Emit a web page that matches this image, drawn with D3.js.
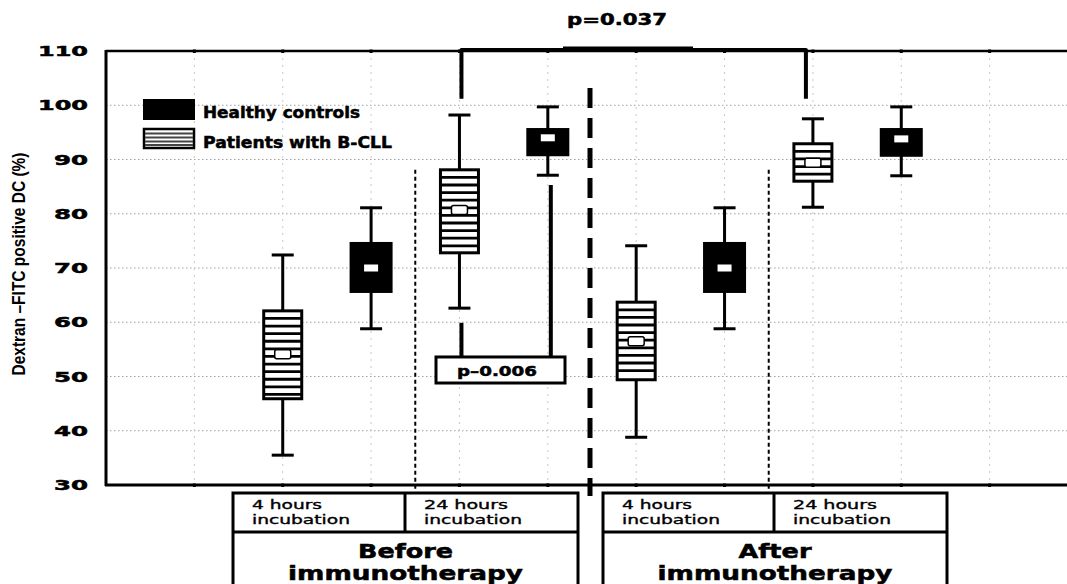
<!DOCTYPE html>
<html>
<head>
<meta charset="utf-8">
<script src="https://cdn.jsdelivr.net/npm/d3@7"></script>
<style>
  body { margin: 0; background: #fff; }
  svg { display: block; }
  .heavy { stroke: #000; stroke-width: 0.5px; }
  .medium { stroke: #000; stroke-width: 0.35px; }
</style>
</head>
<body>
<script>
// ---- data ----
const groups = ["Healthy controls", "Patients with B-CLL"];
const phases = [["Before", "immunotherapy"], ["After", "immunotherapy"]];
const incubations = [["4 hours", "incubation"], ["24 hours", "incubation"]];

// one entry per box, left to right
const boxGroup    = ["Patients with B-CLL", "Healthy controls", "Patients with B-CLL", "Healthy controls",
                     "Patients with B-CLL", "Healthy controls", "Patients with B-CLL", "Healthy controls"];
const whiskerLow  = [35.5, 58.8, 62.6, 87.1, 38.8, 58.8, 81.2, 87.0];
const q1          = [45.9, 65.4, 72.8, 90.6, 49.4, 65.4, 86.0, 90.5];
const medians     = [54.1, 70.0, 80.7, 94.0, 56.5, 70.0, 89.4, 93.8];
const q3          = [62.1, 74.8, 88.1, 95.8, 63.7, 74.8, 92.9, 95.8];
const whiskerHigh = [72.4, 81.1, 98.2, 99.7, 74.1, 81.1, 97.5, 99.7];

const yTicks = [30, 40, 50, 60, 70, 80, 90, 100, 110];
const yTitle = "Dextran \u2013FITC positive DC (%)";
const pTop = "p=0.037";
const pInner = "p\u20130.006";

// ---- layout ----
const W = 1067, H = 584;
const plotLeft = 106, plotTop = 51, plotBottom = 485;

const svg = d3.select("body").append("svg").attr("width", W).attr("height", H);

const x = d3.scaleLinear().domain([0, 11]).range([plotLeft, 1078]);
const y = d3.scaleLinear().domain([30, 110]).range([plotBottom, plotTop]);
const slot = i => x(i + 2);

const boldFont = "'DejaVu Sans', sans-serif";

// grid
const grid = svg.append("g");
grid.selectAll("line.h").data(yTicks.filter(v => v > 30 && v < 110)).join("line")
  .attr("x1", plotLeft).attr("x2", W).attr("y1", d => y(d)).attr("y2", d => y(d))
  .attr("stroke", "#a0a0a0").attr("stroke-width", 1.1).attr("stroke-dasharray", "1.5,2.5");
grid.selectAll("line.v").data(d3.range(1, 12)).join("line")
  .attr("x1", d => x(d)).attr("x2", d => x(d)).attr("y1", plotTop).attr("y2", plotBottom)
  .attr("stroke", "#c8c8c8").attr("stroke-width", 1).attr("stroke-dasharray", "2,5");

// frame
svg.append("line").attr("x1", plotLeft).attr("x2", W).attr("y1", plotTop).attr("y2", plotTop)
  .attr("stroke", "#000").attr("stroke-width", 2.5);
svg.append("line").attr("x1", plotLeft - 1).attr("x2", W).attr("y1", plotBottom).attr("y2", plotBottom)
  .attr("stroke", "#000").attr("stroke-width", 3);
svg.append("line").attr("x1", plotLeft).attr("x2", plotLeft).attr("y1", plotTop - 1).attr("y2", plotBottom + 1)
  .attr("stroke", "#000").attr("stroke-width", 3);

// tick dots on top and bottom edges
svg.append("g").selectAll("rect").data(d3.range(1, 12).flatMap(i => [[i, plotTop], [i, plotBottom]])).join("rect")
  .attr("x", d => x(d[0]) - 1.5).attr("y", d => d[1] - 1.5).attr("width", 3).attr("height", 3.5)
  .attr("fill", "#000");

// y tick labels
svg.append("g").selectAll("text").data(yTicks).join("text")
  .attr("class", "heavy")
  .attr("x", 88).attr("y", d => y(d) + 5)
  .attr("text-anchor", "end")
  .attr("font-family", boldFont).attr("font-weight", "bold").attr("font-size", 14)
  .attr("textLength", d => d >= 100 ? 50 : 34).attr("lengthAdjust", "spacingAndGlyphs")
  .text(d => d);

// y axis title
svg.append("text")
  .attr("transform", "translate(25,264) rotate(-90)")
  .attr("text-anchor", "middle")
  .attr("font-family", "'Liberation Sans Narrow', 'Liberation Sans', sans-serif")
  .attr("font-weight", "bold").attr("font-size", 19)
  .attr("textLength", 223).attr("lengthAdjust", "spacingAndGlyphs")
  .text(yTitle);

// section separators
[(x(3) + x(4)) / 2, (x(7) + x(8)) / 2].forEach(sx => {
  svg.append("line").attr("x1", sx).attr("x2", sx).attr("y1", y(88.1)).attr("y2", plotBottom + 5)
    .attr("stroke", "#000").attr("stroke-width", 2).attr("stroke-dasharray", "4,3");
});
const midX = (x(5) + x(6)) / 2 - 2;
svg.append("line").attr("x1", midX).attr("x2", midX).attr("y1", y(103.2)).attr("y2", plotBottom + 11)
  .attr("stroke", "#000").attr("stroke-width", 5).attr("stroke-dasharray", "20,10");

// boxes
const boxes = svg.append("g");
boxGroup.forEach((g, i) => {
  const cx = slot(i);
  const healthy = g === groups[0];
  const w = healthy ? 43 : 38;
  const gEl = boxes.append("g");
  // whisker
  gEl.append("line").attr("x1", cx).attr("x2", cx).attr("y1", y(whiskerLow[i])).attr("y2", y(whiskerHigh[i]))
    .attr("stroke", "#000").attr("stroke-width", 3);
  [whiskerLow[i], whiskerHigh[i]].forEach(v => {
    gEl.append("line").attr("x1", cx - 11).attr("x2", cx + 11).attr("y1", y(v)).attr("y2", y(v))
      .attr("stroke", "#000").attr("stroke-width", 3);
  });
  const yTop = y(q3[i]), yBot = y(q1[i]);
  if (healthy) {
    gEl.append("rect").attr("x", cx - w / 2).attr("y", yTop).attr("width", w).attr("height", yBot - yTop)
      .attr("fill", "#000");
    gEl.append("rect").attr("x", cx - 7).attr("y", y(medians[i]) - 3.5).attr("width", 14).attr("height", 7)
      .attr("fill", "#fff");
  } else {
    gEl.append("rect").attr("x", cx - w / 2).attr("y", yTop).attr("width", w).attr("height", yBot - yTop)
      .attr("fill", "#fff");
    const stripes = d3.range(yTop + 7.6, yBot - 3, 7.6);
    gEl.selectAll("line.s").data(stripes).join("line")
      .attr("x1", cx - w / 2).attr("x2", cx + w / 2).attr("y1", d => d).attr("y2", d => d)
      .attr("stroke", "#000").attr("stroke-width", 2.8);
    gEl.append("rect").attr("x", cx - w / 2).attr("y", yTop).attr("width", w).attr("height", yBot - yTop)
      .attr("fill", "none").attr("stroke", "#000").attr("stroke-width", 3);
    gEl.append("rect").attr("x", cx - 8).attr("y", y(medians[i]) - 4.5).attr("width", 16).attr("height", 9)
      .attr("rx", 2).attr("fill", "#fff").attr("stroke", "#000").attr("stroke-width", 1.5);
  }
});

// legend
const lg = svg.append("g");
lg.append("rect").attr("x", 143).attr("y", 99).attr("width", 52).attr("height", 21).attr("fill", "#000");
lg.append("rect").attr("x", 144).attr("y", 129).attr("width", 50).attr("height", 19)
  .attr("fill", "#fff").attr("stroke", "#000").attr("stroke-width", 2.5);
lg.selectAll("line.s").data([133.5, 137.5, 141.5, 145]).join("line")
  .attr("x1", 145).attr("x2", 193).attr("y1", d => d).attr("y2", d => d)
  .attr("stroke", "#444").attr("stroke-width", 1.8);
lg.selectAll("text").data(groups).join("text")
  .attr("class", "heavy")
  .attr("x", 203).attr("y", (d, i) => 118 + i * 30)
  .attr("font-family", boldFont).attr("font-weight", "bold").attr("font-size", 15)
  .attr("textLength", (d, i) => i === 0 ? 157 : 189).attr("lengthAdjust", "spacingAndGlyphs")
  .text(d => d);

// significance bracket across the two phases
const bL = slot(2) + 2, bR = slot(6) - 7;
svg.append("path")
  .attr("d", `M${bL},${y(101.2)}V${y(110) - 1}H${bR}V${y(101.2)}`)
  .attr("fill", "none").attr("stroke", "#000").attr("stroke-width", 4).attr("stroke-linejoin", "round");
svg.append("line").attr("x1", 563).attr("x2", 693).attr("y1", plotTop - 3).attr("y2", plotTop - 3)
  .attr("stroke", "#000").attr("stroke-width", 3);
svg.append("text").attr("class", "heavy").attr("x", 617).attr("y", 25).attr("text-anchor", "middle")
  .attr("font-family", boldFont).attr("font-weight", "bold").attr("font-size", 15)
  .attr("textLength", 100).attr("lengthAdjust", "spacingAndGlyphs")
  .text(pTop);

// significance bracket within the 24 h incubation
const iL = slot(2) + 2, iR = slot(3) + 3;
svg.append("line").attr("x1", iL).attr("x2", iL).attr("y1", y(59.9)).attr("y2", y(53.6))
  .attr("stroke", "#000").attr("stroke-width", 4);
svg.append("line").attr("x1", iR).attr("x2", iR).attr("y1", y(85.3)).attr("y2", y(53.6))
  .attr("stroke", "#000").attr("stroke-width", 4);
svg.append("rect").attr("x", 436).attr("y", y(53.6)).attr("width", 129).attr("height", y(48.8) - y(53.6))
  .attr("fill", "#fff").attr("stroke", "#000").attr("stroke-width", 3);
svg.append("text").attr("class", "heavy").attr("x", 497).attr("y", 376).attr("text-anchor", "middle")
  .attr("font-family", boldFont).attr("font-weight", "bold").attr("font-size", 14)
  .attr("textLength", 80).attr("lengthAdjust", "spacingAndGlyphs")
  .text(pInner);

// category table below the axis
const tables = [{ x0: 233, xm: 405, x1: 578 }, { x0: 603, xm: 774, x1: 947 }];
const t0 = 493, tMid = 532;
const incWidths = [[70, 98], [84, 98]];
const phaseWidths = [[95, 235], [73, 235]];
tables.forEach((t, p) => {
  const g = svg.append("g");
  g.append("rect").attr("x", t.x0).attr("y", t0).attr("width", t.x1 - t.x0).attr("height", 120)
    .attr("fill", "#fff").attr("stroke", "#000").attr("stroke-width", 3);
  g.append("line").attr("x1", t.x0).attr("x2", t.x1).attr("y1", tMid).attr("y2", tMid)
    .attr("stroke", "#000").attr("stroke-width", 3);
  g.append("line").attr("x1", t.xm).attr("x2", t.xm).attr("y1", t0).attr("y2", tMid)
    .attr("stroke", "#000").attr("stroke-width", 3);
  incubations.forEach((lines, k) => {
    const cx0 = (k === 0 ? t.x0 : t.xm) + 19;
    lines.forEach((ln, j) => {
      g.append("text").attr("class", "medium").attr("x", cx0).attr("y", 509 + j * 15)
        .attr("font-family", boldFont).attr("font-size", 12)
        .attr("textLength", incWidths[k][j]).attr("lengthAdjust", "spacingAndGlyphs")
        .text(ln);
    });
  });
  phases[p].forEach((ln, j) => {
    g.append("text").attr("class", "heavy").attr("x", (t.x0 + t.x1) / 2).attr("y", 558 + j * 22)
      .attr("text-anchor", "middle")
      .attr("font-family", boldFont).attr("font-weight", "bold").attr("font-size", 19)
      .attr("textLength", phaseWidths[p][j]).attr("lengthAdjust", "spacingAndGlyphs")
      .text(ln);
  });
});
</script>
</body>
</html>
